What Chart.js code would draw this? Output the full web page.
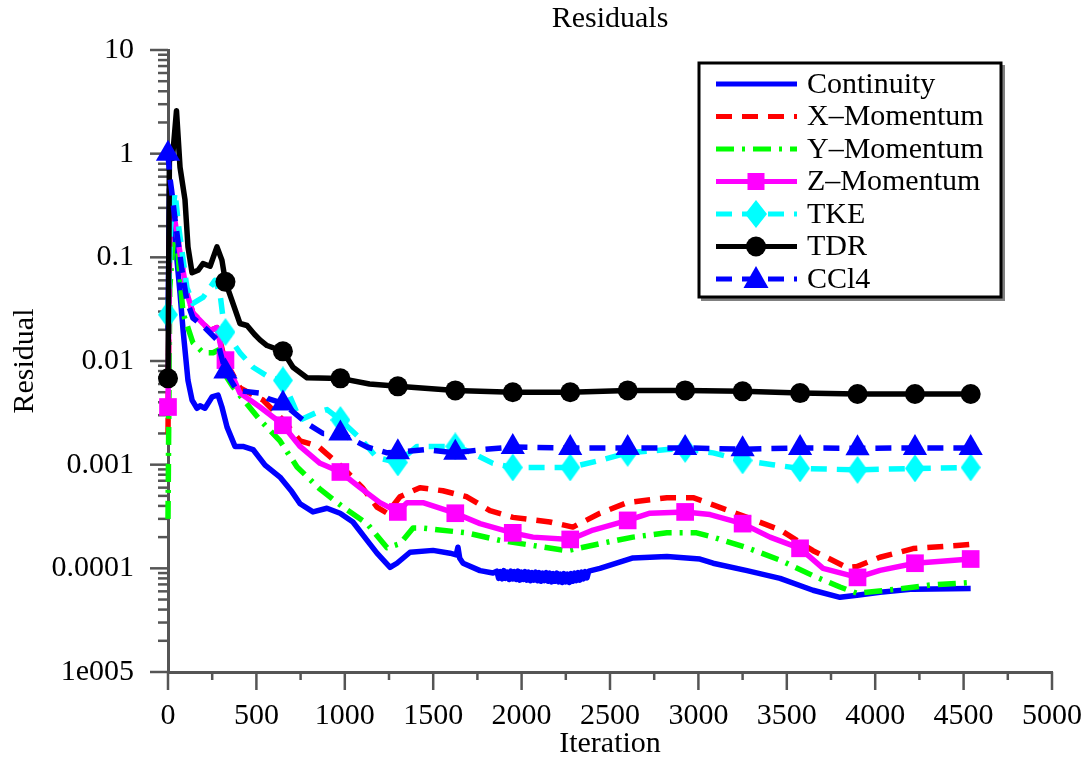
<!DOCTYPE html>
<html>
<head>
<meta charset="utf-8">
<script src="https://cdn.jsdelivr.net/npm/chart.js@4.4.1/dist/chart.umd.min.js"></script>
<style>
  html, body { margin: 0; padding: 0; background: #fff; }
  #wrap { width: 1085px; height: 759px; position: relative; }
</style>
</head>
<body>
<div id="wrap"><canvas id="residuos"></canvas></div>
<script>
const FONT = 'Liberation Serif';

// iteraciones con marcador
const markerIters = [0, 325, 650, 975, 1300, 1625, 1950, 2275, 2600, 2925, 3250, 3575, 3900, 4225, 4540];

// ejes
const xTickValues = [0, 500, 1000, 1500, 2000, 2500, 3000, 3500, 4000, 4500, 5000];
const yTickValues = [1e-5, 1e-4, 1e-3, 1e-2, 1e-1, 1, 10];
const yTickLabels = ['1e005', '0.0001', '0.001', '0.01', '0.1', '1', '10'];

// Continuity
const contIter = [0, 8, 20, 40, 68, 85, 113, 136, 164, 181,
  209, 249, 283, 305, 334, 379, 424, 481, 549, 633,
  700, 747, 820, 899, 973, 1046, 1126, 1182, 1256, 1295,
  1369, 1499, 1595, 1630, 1640, 1650, 1669, 1765, 1838,
  1860, 1870, 1880, 1890, 1900, 1910, 1920, 1930, 1940, 1950,
  1960, 1970, 1980, 1990, 2000, 2010, 2020, 2030, 2040, 2050,
  2060, 2070, 2080, 2090, 2100, 2110, 2120, 2130, 2140, 2150,
  2160, 2170, 2180, 2190, 2200, 2210, 2220, 2230, 2240, 2250,
  2260, 2270, 2280, 2290, 2300, 2310, 2320, 2330, 2340, 2350,
  2360, 2370, 2380,
  2443, 2630, 2822, 3009, 3083, 3275, 3462, 3648, 3801, 3897,
  4027, 4214, 4540];
const contVal = [0.02, 0.45, 0.4, 0.15, 0.045, 0.02, 0.0065, 0.0042, 0.0035, 0.0037,
  0.0035, 0.0045, 0.0047, 0.0036, 0.0023, 0.0015, 0.0015, 0.0014, 0.00099, 0.00076,
  0.00055, 0.00042, 0.00035, 0.00038, 0.00034, 0.00028, 0.000186, 0.00014, 0.000102, 0.000112,
  0.000143, 0.000149, 0.00014, 0.000135, 0.00016, 0.000125, 0.000112, 0.000095, 0.00009,
  0.000094, 0.000080, 0.000093, 0.000079, 0.000095, 0.000080, 0.000092, 0.000078, 0.000094, 0.000079,
  0.000093, 0.000078, 0.000094, 0.000077, 0.000092, 0.000078, 0.000093, 0.000077, 0.000092, 0.000076,
  0.000091, 0.000077, 0.000092, 0.000076, 0.000091, 0.000075, 0.000090, 0.000076, 0.000091, 0.000075,
  0.000090, 0.000074, 0.000089, 0.000075, 0.000090, 0.000074, 0.000088, 0.000073, 0.000089, 0.000074,
  0.000088, 0.000073, 0.000089, 0.000075, 0.000090, 0.000076, 0.000091, 0.000077, 0.000092, 0.000079,
  0.000093, 0.000081, 0.000094,
  0.0001, 0.000126, 0.00013, 0.000123, 0.000112, 0.000095, 0.00008, 0.0000615, 0.0000525, 0.000055,
  0.0000589, 0.000063, 0.000064];

// X-Momentum
const xmIter = [0, 10, 20, 40, 68, 107, 141, 198, 238, 277,
  311, 340, 407, 537, 650, 747, 850, 990, 1100, 1182,
  1240, 1312, 1425, 1555, 1690, 1821, 1951, 2160, 2290, 2443,
  2596, 2822, 2970, 3083, 3275, 3462, 3648, 3840, 3897, 4027,
  4214, 4463, 4540];
const xmVal = [0.002, 0.3, 0.35, 0.25, 0.11, 0.045, 0.029, 0.023, 0.0197, 0.021,
  0.012, 0.009, 0.0055, 0.0042, 0.0027, 0.0017, 0.0015, 0.00093, 0.0006, 0.00039,
  0.00034, 0.00049, 0.0006, 0.00056, 0.00049, 0.00036, 0.00031, 0.00028, 0.00025, 0.00034,
  0.00043, 0.00048, 0.00048, 0.00041, 0.00031, 0.000235, 0.000148, 0.000102, 0.000104, 0.000128,
  0.000155, 0.000166, 0.00017];

// Y-Momentum
const ymIter = [0, 10, 30, 51, 85, 141, 200, 255, 294, 334,
  368, 520, 633, 730, 860, 990, 1126, 1239, 1312, 1386,
  1433, 1690, 1878, 2064, 2257, 2443, 2630, 2822, 2990, 3083,
  3275, 3462, 3648, 3801, 3897, 4123, 4310, 4540];
const ymVal = [0.0003, 0.05, 0.15, 0.14, 0.029, 0.015, 0.012, 0.012, 0.013, 0.0069,
  0.0056, 0.0027, 0.0017, 0.00095, 0.00058, 0.00039, 0.00027, 0.000158, 0.000173, 0.000245,
  0.000245, 0.00022, 0.000186, 0.000166, 0.000148, 0.000173, 0.0002, 0.00022, 0.00022, 0.0002,
  0.000158, 0.00012, 0.000085, 0.000066, 0.0000575, 0.000063, 0.000069, 0.000073];

// Z-Momentum
const zmIter = [0, 10, 20, 40, 68, 107, 141, 198, 238, 277,
  311, 325, 407, 520, 616, 650, 747, 860, 975, 1086,
  1199, 1300, 1352, 1442, 1625, 1765, 1950, 2064, 2275, 2404,
  2600, 2726, 2925, 3066, 3250, 3405, 3575, 3705, 3900, 4027,
  4225, 4540];
const zmVal = [0.0036, 0.2, 0.3, 0.22, 0.11, 0.045, 0.029, 0.023, 0.0197, 0.021,
  0.011, 0.0102, 0.0049, 0.0036, 0.0027, 0.0024, 0.0015, 0.00103, 0.00085, 0.0006,
  0.00043, 0.00035, 0.00043, 0.00043, 0.00034, 0.00027, 0.00022, 0.0002, 0.00019, 0.000234,
  0.00029, 0.00034, 0.00035, 0.00033, 0.00027, 0.0002, 0.000156, 0.0001, 0.0000818, 0.0000955,
  0.000112, 0.000123];

// TKE
const tkeIter = [0, 15, 40, 60, 107, 141, 198, 266, 294, 310,
  325, 407, 481, 577, 650, 747, 843, 900, 975, 1086,
  1182, 1300, 1408, 1625, 1720, 1838, 1950, 2100, 2275, 2443,
  2600, 2822, 2925, 3083, 3250, 3420, 3575, 3900, 4225, 4540];
const tkeVal = [0.028, 0.2, 0.42, 0.2, 0.051, 0.036, 0.041, 0.06, 0.045, 0.027,
  0.019, 0.012, 0.0087, 0.0069, 0.0065, 0.0027, 0.0032, 0.0034, 0.0027, 0.0018,
  0.00117, 0.00105, 0.0015, 0.0015, 0.0013, 0.00103, 0.00094, 0.00094, 0.00094, 0.0011,
  0.0013, 0.0014, 0.00142, 0.0013, 0.0011, 0.001, 0.00092, 0.00089, 0.00092, 0.00094];

// TDR
const tdrIter = [0, 8, 25, 48, 68, 96, 113, 136, 170, 198,
  238, 277, 305, 325, 407, 447, 490, 520, 560, 650,
  707, 786, 915, 975, 1140, 1300, 1625, 1950, 2275, 2600,
  2925, 3250, 3575, 3900, 4225, 4540];
const tdrVal = [0.0068, 0.9, 0.9, 2.6, 0.74, 0.36, 0.126, 0.071, 0.075, 0.087,
  0.082, 0.126, 0.094, 0.058, 0.023, 0.022, 0.018, 0.016, 0.0141, 0.0124,
  0.0087, 0.0069, 0.0068, 0.0068, 0.006, 0.0057, 0.0052, 0.005, 0.005, 0.0052,
  0.0052, 0.0051, 0.0049, 0.0048, 0.0048, 0.0048];

// CCl4
const cclIter = [0, 10, 20, 40, 55, 79, 107, 141, 181, 220,
  277, 325, 390, 520, 570, 650, 786, 877, 975, 1126,
  1240, 1300, 1460, 1625, 1780, 1950, 2275, 2600, 2925, 3250,
  3575, 3900, 4225, 4540];
const cclVal = [1.0, 0.6, 0.45, 0.23, 0.15, 0.075, 0.038, 0.026, 0.023, 0.02,
  0.016, 0.0079, 0.0052, 0.0049, 0.0043, 0.0039, 0.0025, 0.002, 0.002, 0.00148,
  0.0013, 0.00132, 0.0014, 0.0013, 0.0014, 0.00148, 0.00145, 0.00145, 0.00145, 0.00141,
  0.00145, 0.00144, 0.00145, 0.00145];

const series = [
  { label: 'Continuity', it: contIter, v: contVal, color: '#0000ff', dash: [], marker: null },
  { label: 'X\u2013Momentum', it: xmIter, v: xmVal, color: '#ff0000', dash: [16, 10], marker: null },
  { label: 'Y\u2013Momentum', it: ymIter, v: ymVal, color: '#00ff00', dash: [18, 8, 3, 8], marker: null },
  { label: 'Z\u2013Momentum', it: zmIter, v: zmVal, color: '#ff00ff', dash: [], marker: 'square' },
  { label: 'TKE', it: tkeIter, v: tkeVal, color: '#00ffff', dash: [16, 10], marker: 'diamond' },
  { label: 'TDR', it: tdrIter, v: tdrVal, color: '#000000', dash: [], marker: 'circle' },
  { label: 'CCl4', it: cclIter, v: cclVal, color: '#0000ff', dash: [16, 10], marker: 'triangle' }
];

// rombo alargado como en la figura original
function hacerRombo(w, h, color) {
  const c = document.createElement('canvas');
  c.width = w; c.height = h;
  const g = c.getContext('2d');
  g.fillStyle = color;
  g.beginPath();
  g.moveTo(w / 2, 0); g.lineTo(w, h / 2); g.lineTo(w / 2, h); g.lineTo(0, h / 2);
  g.closePath(); g.fill();
  return c;
}
const rombo = hacerRombo(20, 28, '#00ffff');

function estiloPunto(m) {
  if (m === 'square') return { style: 'rect', r: 12.5 };
  if (m === 'circle') return { style: 'circle', r: 10 };
  if (m === 'triangle') return { style: 'triangle', r: 14 };
  if (m === 'diamond') return { style: rombo, r: 10 };
  return { style: 'circle', r: 0 };
}

const datasets = series.map((s, i) => {
  const p = estiloPunto(s.marker);
  return {
    label: s.label,
    data: s.it.map((x, k) => ({ x: x, y: s.v[k] })),
    borderColor: s.color,
    backgroundColor: s.color,
    borderWidth: 5.5,
    borderDash: s.dash,
    borderJoinStyle: 'round',
    tension: 0,
    clip: false,
    order: series.length - i,
    pointStyle: p.style,
    pointBorderWidth: 0,
    pointBorderColor: s.color,
    pointBackgroundColor: s.color,
    pointRadius: ctx => (s.marker && ctx.raw && markerIters.includes(ctx.raw.x)) ? p.r : 0,
    pointHoverRadius: 0
  };
});

// título y marcas de los ejes (mayores y menores)
const marcasPlugin = {
  id: 'marcas',
  beforeDatasetsDraw(chart) {
    const { ctx, chartArea } = chart;
    const x = chart.scales.x, y = chart.scales.y;
    ctx.save();
    ctx.fillStyle = '#000';
    ctx.font = '30px "' + FONT + '"';
    ctx.textAlign = 'center';
    ctx.textBaseline = 'middle';
    ctx.fillText('Residuals', (chartArea.left + chartArea.right) / 2, 19);

    ctx.strokeStyle = '#555';
    ctx.lineWidth = 2.5;
    const seg = (x1, y1, x2, y2) => { ctx.beginPath(); ctx.moveTo(x1, y1); ctx.lineTo(x2, y2); ctx.stroke(); };
    yTickValues.forEach((v, i) => {
      const py = y.getPixelForValue(v);
      seg(chartArea.left - 18, py, chartArea.left, py);
      if (i < yTickValues.length - 1) {
        for (let k = 2; k <= 9; k++) {
          const pm = y.getPixelForValue(k * v);
          seg(chartArea.left - 10, pm, chartArea.left, pm);
        }
      }
    });
    xTickValues.forEach((v, i) => {
      const px = x.getPixelForValue(v);
      seg(px, chartArea.bottom, px, chartArea.bottom + 18);
      if (i < xTickValues.length - 1) {
        const pm = x.getPixelForValue(v + 250);
        seg(pm, chartArea.bottom, pm, chartArea.bottom + 8);
      }
    });
    ctx.restore();
  }
};

function dibujarMarcador(ctx, m, cx, cy, color) {
  ctx.fillStyle = color;
  ctx.beginPath();
  if (m === 'square') {
    ctx.rect(cx - 8.5, cy - 8.5, 17, 17);
  } else if (m === 'circle') {
    ctx.arc(cx, cy, 10, 0, Math.PI * 2);
  } else if (m === 'triangle') {
    ctx.moveTo(cx, cy - 13); ctx.lineTo(cx + 12.5, cy + 9); ctx.lineTo(cx - 12.5, cy + 9);
  } else if (m === 'diamond') {
    ctx.moveTo(cx, cy - 14); ctx.lineTo(cx + 11, cy); ctx.lineTo(cx, cy + 14); ctx.lineTo(cx - 11, cy);
  }
  ctx.closePath();
  ctx.fill();
}

const leyendaPlugin = {
  id: 'leyenda',
  afterDraw(chart) {
    const ctx = chart.ctx;
    const bx = 699, by = 63, bw = 302, bh = 234;
    ctx.save();
    ctx.fillStyle = '#808080';
    ctx.fillRect(bx + 2, by + 2, bw + 2, bh + 2);
    ctx.fillStyle = '#ffffff';
    ctx.fillRect(bx, by, bw, bh);
    ctx.strokeStyle = '#000';
    ctx.lineWidth = 3;
    ctx.strokeRect(bx, by, bw, bh);
    series.forEach((s, i) => {
      const ry = 84 + i * 32.5;
      ctx.strokeStyle = s.color;
      ctx.lineWidth = 5;
      ctx.setLineDash(s.dash);
      ctx.beginPath(); ctx.moveTo(716, ry); ctx.lineTo(797, ry); ctx.stroke();
      ctx.setLineDash([]);
      if (s.marker) dibujarMarcador(ctx, s.marker, 756, ry, s.color);
      ctx.fillStyle = '#000';
      ctx.font = '30px "' + FONT + '"';
      ctx.textAlign = 'left';
      ctx.textBaseline = 'middle';
      ctx.fillText(s.label, 807, ry + 1);
    });
    ctx.restore();
  }
};

new Chart(document.getElementById('residuos'), {
  type: 'line',
  data: { datasets: datasets },
  plugins: [marcasPlugin, leyendaPlugin],
  options: {
    responsive: true,
    maintainAspectRatio: false,
    animation: false,
    events: [],
    layout: { padding: { top: 50, right: 33, bottom: 0, left: 0 } },
    plugins: {
      legend: { display: false },
      tooltip: { enabled: false },
      title: { display: false }
    },
    scales: {
      x: {
        type: 'linear', min: 0, max: 5000,
        grid: { display: false },
        border: { display: true, color: '#555', width: 3 },
        afterBuildTicks: s => { s.ticks = xTickValues.map(v => ({ value: v })); },
        ticks: {
          autoSkip: false, maxRotation: 0, padding: 18, color: '#000',
          font: { family: FONT, size: 30 },
          callback: v => String(v)
        },
        title: {
          display: true, text: 'Iteration', color: '#000',
          font: { family: FONT, size: 30, lineHeight: 1 },
          padding: { top: 0, bottom: 0 }
        },
        afterFit: s => { s.height = 87; s.paddingRight = 0; s.paddingLeft = 0; }
      },
      y: {
        type: 'logarithmic', min: 1e-5, max: 10,
        grid: { display: false },
        border: { display: true, color: '#555', width: 3 },
        afterBuildTicks: s => { s.ticks = yTickValues.map(v => ({ value: v, major: true })); },
        ticks: {
          autoSkip: false, padding: 26, color: '#000',
          font: { family: FONT, size: 30 },
          callback: (v, i) => yTickLabels[i]
        },
        title: {
          display: true, text: 'Residual', color: '#000',
          font: { family: FONT, size: 30, lineHeight: 1 },
          padding: { top: 10, bottom: 0 }
        },
        afterFit: s => { s.width = 168; s.paddingTop = 0; s.paddingBottom = 0; }
      }
    }
  }
});
</script>
</body>
</html>
